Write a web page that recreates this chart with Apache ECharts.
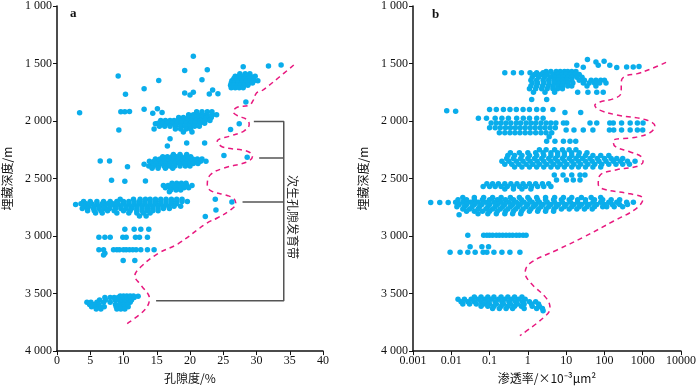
<!DOCTYPE html>
<html>
<head>
<meta charset="utf-8">
<script src="https://cdn.jsdelivr.net/npm/echarts@6.0.0/dist/echarts.min.js"></script>
<style>html,body{margin:0;background:#fff}#main{width:700px;height:389px}</style>
</head>
<body>
<div id="main"></div>
<script>
// y ticks (depth, m)
const depthTicks = [1000, 1500, 2000, 2500, 3000, 3500, 4000];
const permTickLabels = ['0.001', '0.01', '0.1', '1', '10', '100', '1000', '10000'];

// panel a: porosity (%) vs depth -- isolated points [porosity, depth]
const porosityPts = [
  [20.5,1437],[33.7,1513],[31.8,1521],[28,1529],[22.6,1555],[19.2,1560],[9.2,1608],[21.8,1641],
  [15.3,1647],[13.1,1720],[23.4,1731],[20.5,1750],[19.2,1756],[22.9,1765],[24.2,1762],[20.0,1773],
  [10.3,1767],[28.4,1834],[3.4,1927],[9.6,1920],[10.2,1920],[10.9,1918],[13.1,1897],[15.1,1893],
  [14.4,1933],[15.8,1925],[9.3,2078],[14.8,2023],[27.4,2023],[26.1,2073],[17.0,2154],[16.6,2216],
  [19.5,2190],[22.2,2190],[25.1,2300],[28.6,2314],[6.5,2347],[7.9,2347],[10.6,2398],[13.1,2375],
  [8.2,2515],[10.2,2524],[13.3,2521],[2.8,2725],[23.8,2681],[26.3,2703],[23.9,2773],[22.3,2829],
  [9.95,3213],[11.7,3213],[12.2,3523],[7.0,3165],[7.2,3150]
];
// panel a: clustered rows [depth, [porosity...]]
const porosityRows = [
  [1590, [27.5, 28.3, 29.0]],
  [1610, [26.8, 27.3, 27.9, 28.5, 29.1, 29.8]],
  [1630, [26.6, 27.1, 27.6, 28.2, 28.8, 29.4]],
  [1650, [26.3, 26.9, 27.4, 27.9, 28.5, 29.0, 29.6, 30.2]],
  [1670, [26.2, 26.7, 27.2, 27.8, 28.3, 28.9, 29.4]],
  [1690, [26.1, 26.6, 27.1, 27.6, 28.1, 28.7]],
  [1710, [26.2, 26.8, 27.4, 28.0]],
  [1920, [21.0, 21.8, 22.6, 23.3]],
  [1945, [19.8, 20.5, 21.2, 21.9, 22.6, 23.4, 24.0]],
  [1970, [18.3, 19.0, 19.7, 20.4, 21.1, 21.8, 22.5, 23.2]],
  [1995, [15.6, 16.3, 17.0, 17.6, 18.2, 18.9, 19.5, 20.2, 20.9, 21.6, 22.3, 23.0]],
  [2020, [15.2, 15.9, 16.6, 17.3, 18.0, 18.7, 19.4, 20.1, 20.8, 21.5, 22.2]],
  [2045, [15.4, 16.2, 17.0, 17.8, 18.6, 19.3, 20.0, 20.7, 21.4]],
  [2070, [14.6, 17.8, 18.6, 19.4, 20.1]],
  [2095, [19.0, 20.3]],
  [2290, [17.5, 18.5, 19.5]],
  [2310, [15.9, 16.6, 17.3, 18.0, 18.7, 19.4, 20.1]],
  [2330, [14.8, 15.5, 16.2, 16.9, 17.6, 18.3, 19.0, 19.7, 20.4, 21.1, 21.8]],
  [2350, [13.9, 14.6, 15.3, 16.0, 16.7, 17.4, 18.1, 18.8, 19.5, 20.2, 20.9, 21.6, 22.4]],
  [2370, [14.2, 14.9, 15.6, 16.3, 17.0, 17.7, 18.4, 19.1, 19.8, 20.5, 21.2]],
  [2390, [13.8, 14.5, 15.3, 16.1, 16.9, 17.7, 18.5, 19.3, 20.0]],
  [2410, [14.3, 15.2, 16.3, 17.4]],
  [2540, [17.3, 18.0, 18.7, 19.4]],
  [2560, [16.0, 16.7, 17.4, 18.1, 18.8, 19.5, 20.3]],
  [2580, [16.3, 17.0, 17.7, 18.4, 19.1, 19.8]],
  [2600, [17.1, 17.9, 18.6]],
  [2615, [16.9]],
  [2680, [9.5, 11.5, 12.5, 13.3, 14.0, 14.8, 15.6, 16.4, 17.2, 18.0, 18.8]],
  [2700, [4.0, 5.0, 6.0, 7.0, 8.0, 9.0, 10.0, 10.8, 11.6, 12.4, 13.2, 14.0, 14.8, 15.6, 16.4, 17.2, 18.0, 18.8, 19.6]],
  [2720, [3.6, 4.4, 5.2, 6.0, 6.8, 7.6, 8.4, 9.2, 10.0, 10.8, 11.6, 12.4, 13.2, 14.0, 14.8, 15.6, 16.4, 17.2, 18.0]],
  [2740, [4.0, 4.8, 5.6, 6.4, 7.2, 8.0, 8.8, 9.6, 10.4, 11.2, 12.0, 12.8, 13.6, 14.4, 15.2, 16.0, 16.8, 17.6, 18.6]],
  [2760, [3.8, 4.6, 5.5, 6.3, 7.1, 7.9, 8.8, 9.6, 10.4, 11.2, 12.0, 12.8, 13.6, 14.4, 15.2, 16.0, 16.9]],
  [2780, [4.6, 5.6, 6.6, 7.6, 8.6, 10.0, 11.0, 12.0, 12.8, 13.6, 14.4, 15.2]],
  [2800, [5.8, 6.8, 9.0, 10.8, 12.0, 13.0, 14.0]],
  [2825, [12.4, 13.4]],
  [2941, [10.2, 11.6, 12.6, 13.8]],
  [3011, [6.3, 7.2, 8.0, 9.9, 10.4, 11.8, 12.4, 13.6]],
  [3118, [6.3, 7.0, 8.5, 9.0, 9.4, 10.0, 10.4, 10.9, 11.4, 11.9, 12.6, 13.6, 14.6]],
  [3520, [9.5, 10.0, 10.5, 11.0, 11.5]],
  [3535, [7.2, 8.0, 8.6, 9.2, 9.8, 10.4, 11.0, 11.6]],
  [3555, [6.4, 7.3, 8.7, 9.3, 9.9, 10.5, 11.2]],
  [3575, [4.5, 5.1, 6.0, 7.0, 8.0, 9.6, 10.2, 11.0]],
  [3595, [4.9, 5.6, 6.3, 8.8, 9.4, 10.0, 10.6]],
  [3615, [5.2, 5.8, 6.4, 7.1, 8.9, 9.5, 10.1, 10.7]],
  [3635, [5.9, 6.6, 9.0, 9.6, 10.2]]
];
// panel a trend curve [porosity, depth]
const porosityCurve = [
  [35.6,1513],[33.3,1624],[30.8,1737],[30.0,1756],[29.5,1821],[28.9,1863],[27.1,1880],[26.5,1919],
  [27.1,1952],[28.6,1989],[28.9,2031],[28.1,2087],[26.1,2129],[24.1,2175],[24.9,2225],[28.6,2262],
  [29.4,2305],[28.6,2355],[25.1,2409],[23.1,2465],[22.6,2549],[23.1,2605],[25.6,2647],[26.6,2675],
  [26.9,2717],[26.1,2773],[24.1,2843],[22.6,2885],[18.2,3067],[15.2,3151],[12.7,3263],[11.7,3347],
  [12.7,3431],[13.9,3544],[13.2,3641],[10.2,3773]
];
// secondary porosity zones (bracket) [porosity start, depth]
const zoneMarks = [[29.6, 2003], [30.4, 2322], [27.9, 2703], [14.9, 3563]];
const zoneBracketX = 34.1;

// panel b: permeability (10^-3 um^2) vs depth -- isolated points [perm, depth]
const permPts = [
  [36,1465],[60,1487],[98,1480],[19,1515],[28,1532],[69,1515],[138,1515],[210,1535],[380,1530],
  [565,1530],[800,1525],[1.26,1812],[3.1,1812],[0.0076,1910],[0.013,1915],[9.3,1925],[24,1925],
  [3.6,2137],[0.0029,2709],[0.005,2709],[0.0083,2709],[0.016,2815],[0.031,3092],[0.063,3092],
  [0.094,3092],[2.5,3650]
];
// panel b: clustered rows [depth, [perm...]]
const permRows = [
  [1570, [3.0, 4.0, 5.5, 7.0, 9.0, 11, 14, 18]],
  [1580, [0.25, 0.42, 0.68, 1.14, 1.7, 2.5]],
  [1595, [1.5, 2.2, 3.2, 4.5, 6.0, 8.0, 10, 13, 17, 22]],
  [1620, [1.3, 1.9, 2.7, 3.8, 5.0, 6.5, 8.5, 11, 14, 19, 26]],
  [1645, [1.2, 1.7, 2.5, 3.5, 4.8, 6.3, 8.2, 10.5, 14, 22, 30, 45, 60, 80, 100]],
  [1670, [1.3, 1.8, 2.6, 3.6, 5.0, 6.6, 8.5, 11, 15, 28, 40, 55, 75, 110]],
  [1695, [1.2, 1.7, 2.4, 3.4, 4.6, 6.2, 8.0, 11, 14, 35, 60]],
  [1720, [1.1, 1.6, 2.3, 3.2, 4.5, 6.0, 8.0]],
  [1750, [1.4, 2.8, 5.0, 20, 37, 63, 93]],
  [1900, [0.1, 0.15, 0.23, 0.34, 0.5, 0.75, 1.1, 1.7, 2.5, 4.5]],
  [1975, [0.051, 0.083, 0.14, 0.21, 0.31, 0.51, 0.76, 1.1, 1.7, 2.5]],
  [2017, [0.11, 0.15, 0.2, 0.27, 0.36, 0.5, 0.65, 0.9, 1.2, 1.6, 2.2, 3.0, 4.0, 5.4, 8.5, 10.3, 42, 63, 138, 170, 280, 470, 725, 1020]],
  [2059, [0.1, 0.14, 0.19, 0.26, 0.35, 0.47, 0.63, 0.85, 1.15, 1.55, 2.1, 2.8, 3.8, 5.2]],
  [2078, [10, 16, 28, 50, 135, 175, 280, 470, 725, 1000]],
  [2101, [0.18, 0.25, 0.34, 0.46, 0.62, 0.85, 1.15, 1.6, 2.2, 3.0, 4.2]],
  [2176, [3.1, 5.1, 8.5, 12.6, 17.8]],
  [2250, [2.0, 3.0, 5.0, 8.0, 12, 18]],
  [2275, [0.35, 0.6, 1.0, 1.6, 2.5, 4.0, 6.0, 9.0, 14, 22, 35]],
  [2300, [0.3, 0.45, 0.7, 1.1, 1.7, 2.6, 4.0, 6.0, 9.0, 14, 21, 32, 50, 80, 130]],
  [2325, [0.28, 0.42, 0.65, 1.0, 1.5, 2.3, 3.5, 5.2, 8.0, 12, 18, 27, 42, 65, 100, 150, 210, 300]],
  [2350, [0.21, 0.32, 0.5, 0.75, 1.15, 1.75, 2.6, 4.0, 6.0, 9.0, 14, 21, 32, 48, 72, 110, 170, 260, 400, 630]],
  [2375, [0.25, 0.38, 0.58, 0.9, 1.35, 2.0, 3.1, 4.7, 7.0, 10.5, 16, 24, 37, 56, 85, 130, 200, 300, 450]],
  [2400, [0.45, 0.7, 1.1, 1.7, 2.6, 4.0, 6.0, 9.0, 14, 21, 32, 50, 80]],
  [2470, [4.9, 8.3, 14, 23, 31]],
  [2513, [5.6, 10.2, 15.4, 23]],
  [2545, [0.085, 0.12, 0.17, 0.25, 0.36, 0.52, 0.75, 1.1, 1.6, 2.4, 3.5]],
  [2570, [0.068, 0.1, 0.14, 0.2, 0.29, 0.42, 0.6, 0.87, 1.25, 1.8, 2.6, 4.0]],
  [2590, [0.25, 0.42, 0.7, 1.2]],
  [2665, [0.02, 0.04, 0.07, 0.12, 0.2, 0.35, 0.6, 1.0, 1.7, 2.9, 5, 8.5, 14, 25, 45, 80]],
  [2685, [0.015, 0.025, 0.04, 0.065, 0.1, 0.16, 0.26, 0.42, 0.68, 1.1, 1.8, 2.9, 4.7, 7.5, 12, 20, 32, 55, 90, 150, 250]],
  [2705, [0.013, 0.02, 0.032, 0.05, 0.08, 0.13, 0.2, 0.32, 0.5, 0.8, 1.3, 2.0, 3.2, 5, 8, 13, 20, 32, 50, 80, 130, 210, 380, 570]],
  [2725, [0.016, 0.025, 0.04, 0.063, 0.1, 0.16, 0.25, 0.4, 0.63, 1.0, 1.6, 2.5, 4.0, 6.3, 10, 16, 25, 40, 63, 100, 160, 250, 400]],
  [2745, [0.014, 0.022, 0.035, 0.055, 0.09, 0.14, 0.22, 0.35, 0.55, 0.9, 1.4, 2.2, 3.5, 5.5, 9, 14, 22, 35, 55, 90, 115, 180, 300]],
  [2765, [0.02, 0.03, 0.05, 0.08, 0.12, 0.19, 0.3, 0.48, 0.75, 1.2, 1.9, 3.0, 4.8, 7.5, 12, 19, 30, 48]],
  [2785, [0.025, 0.04, 0.065, 0.1, 0.16, 0.26, 0.42, 0.68, 1.1, 1.8, 2.9, 4.7]],
  [2805, [0.05, 0.09, 0.15, 0.25, 0.4, 0.65]],
  [2992, [0.027, 0.07, 0.085, 0.1, 0.12, 0.15, 0.18, 0.22, 0.27, 0.33, 0.4, 0.5, 0.6, 0.75, 0.9]],
  [3140, [0.0093, 0.017, 0.027, 0.042, 0.068, 0.085, 0.13, 0.21, 0.34, 0.62]],
  [3530, [0.04, 0.06, 0.09, 0.13, 0.2, 0.3, 0.45, 0.7]],
  [3550, [0.015, 0.022, 0.033, 0.05, 0.075, 0.11, 0.17, 0.25, 0.38, 0.57, 0.85]],
  [3570, [0.018, 0.027, 0.04, 0.06, 0.09, 0.14, 0.21, 0.32, 0.48, 0.72, 1.1, 1.6]],
  [3590, [0.02, 0.03, 0.045, 0.07, 0.1, 0.15, 0.23, 0.35, 0.53, 0.8, 1.25, 1.9]],
  [3610, [0.06, 0.09, 0.13, 0.2, 0.3, 0.45, 0.68, 1.3, 2.0]],
  [3630, [0.12, 0.18, 0.27, 0.4, 0.8, 1.7, 2.4]]
];
// panel b trend curve [perm, depth]
const permCurve = [
  [4070,1490],[1550,1550],[690,1590],[380,1605],[280,1645],[270,1760],[170,1807],[76,1835],[56,1863],
  [76,1905],[210,1947],[1200,1989],[2090,2045],[1550,2101],[690,2140],[170,2171],[190,2221],
  [470,2269],[930,2311],[1020,2353],[690,2395],[210,2423],[76,2473],[69,2549],[93,2591],[470,2633],
  [1020,2675],[690,2759],[170,2871],[28,3011],[5.6,3123],[1.15,3235],[0.85,3319],[1.15,3403],
  [3.1,3544],[3.8,3628],[2.5,3712],[0.62,3866]
];

const flatRows = rows => rows.flatMap(([d, xs]) => xs.map(x => [x, d]));

const DOT = '#0aadeb';
const CURVE = '#e8197f';
const FONT = '"Liberation Serif", "Noto Sans CJK SC", serif';
const CJK = '"Noto Sans CJK SC", sans-serif';

const chart = echarts.init(document.getElementById('main'));

function depthAxis(gridIndex) {
  return {
    gridIndex,
    type: 'value',
    inverse: true,
    min: depthTicks[0],
    max: depthTicks[depthTicks.length - 1],
    interval: 500,
    name: '埋藏深度/m',
    nameLocation: 'middle',
    nameGap: 44,
    nameRotate: 90,
    nameTextStyle: { fontFamily: CJK, fontSize: 12, color: '#111' },
    axisLine: { show: true, lineStyle: { color: '#111', width: 1.5 } },
    axisTick: { show: true, length: 4, lineStyle: { color: '#111' } },
    axisLabel: {
      margin: 5, fontFamily: FONT, fontSize: 12, color: '#111',
      formatter: v => String(v).replace(/\B(?=(\d{3})+$)/, ' ')
    },
    splitLine: { show: false }
  };
}

const option = {
  animation: false,
  backgroundColor: '#fff',
  grid: [
    { left: 55, top: 4, width: 268, height: 356 },
    { left: 413, top: 4, width: 268, height: 356 }
  ],
  xAxis: [
    {
      gridIndex: 0, type: 'value', min: 0, max: 40, interval: 5,
      name: '孔隙度/%', nameLocation: 'middle', nameGap: 18,
      nameTextStyle: { fontFamily: CJK, fontSize: 12, color: '#111' },
      axisLine: { lineStyle: { color: '#111', width: 1.5 } },
      axisTick: { length: 4, lineStyle: { color: '#111' } },
      axisLabel: { margin: 4, fontFamily: FONT, fontSize: 12, color: '#111' },
      splitLine: { show: false }
    },
    {
      gridIndex: 1, type: 'log', logBase: 10, min: 0.001, max: 10000,
      name: '渗透率/×10⁻³μm²', nameLocation: 'middle', nameGap: 18,
      nameTextStyle: { fontFamily: CJK, fontSize: 12, color: '#111' },
      axisLine: { lineStyle: { color: '#111', width: 1.5 } },
      axisTick: { length: 4, lineStyle: { color: '#111' } },
      axisLabel: {
        margin: 4, fontFamily: FONT, fontSize: 12, color: '#111',
        formatter: v => permTickLabels[Math.round(Math.log10(v)) + 3]
      },
      splitLine: { show: false }
    }
  ],
  yAxis: [depthAxis(0), depthAxis(1)],
  series: [
    {
      type: 'scatter', xAxisIndex: 0, yAxisIndex: 0, symbolSize: 5.5,
      itemStyle: { color: DOT, opacity: 1 },
      data: porosityPts.concat(flatRows(porosityRows))
    },
    {
      type: 'line', xAxisIndex: 0, yAxisIndex: 0, smooth: 0.4, symbol: 'none',
      lineStyle: { color: CURVE, width: 1.5, type: [5, 4] },
      data: porosityCurve
    },
    {
      type: 'line', xAxisIndex: 0, yAxisIndex: 0, symbol: 'none',
      lineStyle: { color: '#555', width: 1.5 },
      data: [[zoneMarks[0][0], zoneMarks[0][1]], [zoneBracketX, zoneMarks[0][1]],
             [zoneBracketX, zoneMarks[3][1]], [zoneMarks[3][0], zoneMarks[3][1]]],
      markLine: {
        silent: true, symbol: 'none', label: { show: false },
        lineStyle: { color: '#555', width: 1.5, type: 'solid' },
        data: [
          [{ coord: [zoneMarks[1][0], zoneMarks[1][1]] }, { coord: [zoneBracketX, zoneMarks[1][1]] }],
          [{ coord: [zoneMarks[2][0], zoneMarks[2][1]] }, { coord: [zoneBracketX, zoneMarks[2][1]] }]
        ]
      }
    },
    {
      type: 'scatter', xAxisIndex: 1, yAxisIndex: 1, symbolSize: 5.5,
      itemStyle: { color: DOT, opacity: 1 },
      data: permPts.concat(flatRows(permRows))
    },
    {
      type: 'line', xAxisIndex: 1, yAxisIndex: 1, smooth: 0.4, symbol: 'none',
      lineStyle: { color: CURVE, width: 1.5, type: [5, 4] },
      data: permCurve
    }
  ],
  graphic: [
    { type: 'text', left: 70, top: 7, style: { text: 'a', font: 'bold 13px "Liberation Serif"', fill: '#111' } },
    { type: 'text', left: 432, top: 8, style: { text: 'b', font: 'bold 13px "Liberation Serif"', fill: '#111' } },
    {
      type: 'text', x: 293, y: 217, rotation: -Math.PI / 2,
      style: { text: '次生孔隙发育带', font: '12px "Noto Sans CJK SC"', fill: '#222', textAlign: 'center', textVerticalAlign: 'middle' }
    }
  ]
};

chart.setOption(option);
</script>
</body>
</html>
